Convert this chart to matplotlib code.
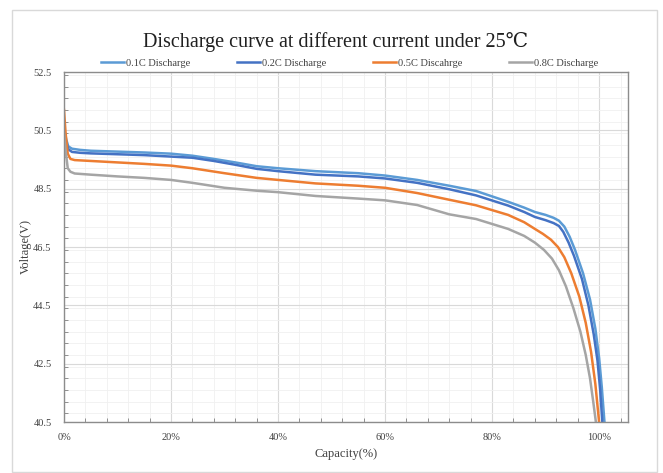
import matplotlib.pyplot as plt
from matplotlib.ticker import MultipleLocator, PercentFormatter
from matplotlib.patches import Rectangle

# Data (capacity in %, voltage in V)
cap_01 = [0, 0.4, 0.8, 1.5, 3, 5, 10, 15, 20, 24, 28, 32, 36, 40, 47, 55, 60, 66, 72, 77, 83, 86, 88, 90, 91.5, 92.5, 93.5, 94.5, 95.5, 97, 98.3, 99.3, 100.0, 100.5, 101.0]
v_01 = [50.6, 50.2, 49.95, 49.87, 49.83, 49.8, 49.77, 49.74, 49.7, 49.63, 49.52, 49.4, 49.27, 49.2, 49.1, 49.03, 48.95, 48.8, 48.6, 48.42, 48.05, 47.85, 47.7, 47.6, 47.5, 47.4, 47.2, 46.85, 46.4, 45.6, 44.7, 43.7, 42.7, 41.7, 40.5]

cap_02 = [0, 0.4, 0.8, 1.5, 3, 5, 10, 15, 20, 24, 28, 32, 36, 40, 47, 55, 60, 66, 72, 77, 83, 86, 88, 90, 91.5, 92.5, 93.3, 94.3, 95.3, 96.8, 98.0, 99.0, 99.7, 100.2, 100.6]
v_02 = [50.5, 50.1, 49.85, 49.76, 49.73, 49.71, 49.68, 49.65, 49.6, 49.56, 49.45, 49.32, 49.18, 49.1, 48.98, 48.92, 48.85, 48.7, 48.48, 48.27, 47.92, 47.7, 47.53, 47.42, 47.32, 47.22, 47.02, 46.65, 46.2, 45.4, 44.5, 43.5, 42.6, 41.6, 40.5]

cap_05 = [0, 0.3, 0.7, 1.2, 2, 5, 10, 15, 20, 24, 30, 36, 40, 47, 55, 60, 66, 72, 77, 83, 86, 88, 89.5, 91, 92.3, 93.5, 94.8, 96.3, 97.5, 98.5, 99.3, 100.0]
v_05 = [51.2, 50.4, 49.7, 49.52, 49.48, 49.45, 49.4, 49.35, 49.29, 49.2, 49.03, 48.87, 48.8, 48.68, 48.6, 48.53, 48.35, 48.12, 47.93, 47.6, 47.35, 47.12, 46.95, 46.75, 46.5, 46.15, 45.6, 44.8, 43.9, 42.9, 41.8, 40.5]

cap_08 = [0, 0.3, 0.7, 1.2, 2, 5, 10, 15, 20, 24, 30, 36, 40, 47, 55, 60, 66, 72, 77, 83, 86, 88, 89.7, 91.2, 92.5, 93.8, 95.2, 96.5, 97.5, 98.3, 98.9, 99.4]
v_08 = [50.4, 49.8, 49.2, 49.08, 49.02, 48.98, 48.92, 48.87, 48.8, 48.7, 48.53, 48.43, 48.38, 48.25, 48.16, 48.1, 47.94, 47.62, 47.46, 47.12, 46.88, 46.65, 46.4, 46.1, 45.7, 45.15, 44.4, 43.6, 42.8, 42.0, 41.2, 40.5]

series = [
    ('0.1C Discharge', cap_01, v_01, '#5B9BD5'),
    ('0.2C Discharge', cap_02, v_02, '#4472C4'),
    ('0.5C Discahrge', cap_05, v_05, '#ED7D31'),
    ('0.8C Discharge', cap_08, v_08, '#A5A5A5'),
]

plt.rcParams['font.family'] = ['Liberation Serif', 'DejaVu Serif']

fig = plt.figure(figsize=(6.63, 4.73), dpi=100)
ax = fig.add_axes([64 / 663, 1 - 422 / 473, (628 - 64) / 663, (422 - 72) / 473])

# outer frame
fig.patches.append(Rectangle((12 / 663, 1 / 473), 645 / 663, 462 / 473, transform=fig.transFigure,
                             fill=False, edgecolor='#d9d9d9', linewidth=1))

for label, x, y, c in series:
    ax.plot(x, y, color=c, linewidth=1.8, label=label, solid_joinstyle='round')

ax.set_xlim(0, 105.4)
ax.set_ylim(40.5, 52.5)
ax.xaxis.set_major_locator(MultipleLocator(20))
ax.xaxis.set_minor_locator(MultipleLocator(4))
ax.xaxis.set_major_formatter(PercentFormatter(decimals=0))
ax.set_yticks([40.5, 42.5, 44.5, 46.5, 48.5, 50.5, 52.5])
ax.yaxis.set_minor_locator(MultipleLocator(0.4))
ax.yaxis.set_major_formatter(plt.FuncFormatter(lambda v, p: f'{v:.1f}'))

ax.grid(which='major', color='#d9d9d9', linewidth=0.8)
ax.grid(which='minor', color='#f0f0f0', linewidth=0.6)
ax.set_axisbelow(True)

ax.tick_params(which='both', direction='in', colors='#7f7f7f', labelcolor='#404040', labelsize=7.5)
ax.tick_params(which='major', length=0)
ax.tick_params(which='minor', length=3)
ax.tick_params(axis='x', pad=8)
ax.tick_params(axis='y', pad=9)
for s in ax.spines.values():
    s.set_color('#8c8c8c')
    s.set_linewidth(1)

ax.set_xlabel('Capacity(%)', fontsize=9, color='#404040', labelpad=4)
ax.set_ylabel('Voltage(V)', fontsize=9, color='#404040', va='center')
ax.yaxis.set_label_coords(-0.068, 0.5)

fig.text(0.506, 1 - 42 / 473, 'Discharge curve at different current under 25℃', ha='center', va='center',
         fontsize=14.5, color='#202020')

ax.legend(loc='lower left', bbox_to_anchor=(0.059, 1.0, 0.895, 0.06), ncol=4, mode='expand',
          frameon=False, fontsize=7.5, handlelength=2.2, handletextpad=0.2, borderaxespad=0,
          labelcolor='#404040')

fig.savefig('out.png', dpi=100)
